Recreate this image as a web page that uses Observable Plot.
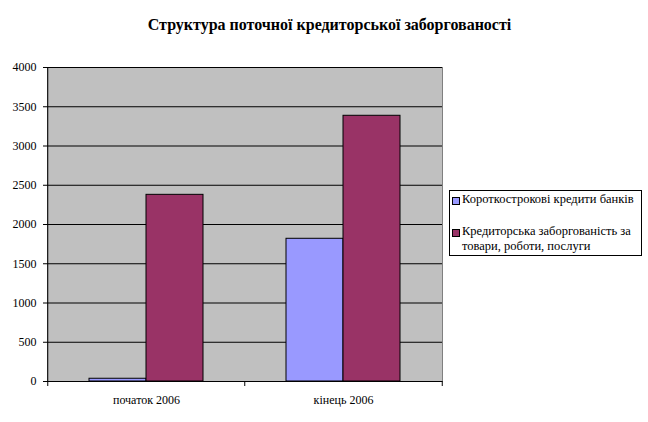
<!DOCTYPE html>
<html><head><meta charset="utf-8">
<script src="https://cdn.jsdelivr.net/npm/d3@7"></script>
<script src="https://cdn.jsdelivr.net/npm/@observablehq/plot@0.6"></script>
<style>
body{margin:0;background:#fff;}
#wrap{position:relative;width:648px;height:422px;font-family:'Liberation Serif','Times New Roman',serif;}
#title{position:absolute;left:0;width:659px;top:16px;text-align:center;font-weight:bold;font-size:16px;font-family:'Liberation Serif','Times New Roman',serif;}
#legend{position:absolute;left:449px;top:190px;width:193px;height:66px;box-sizing:border-box;border:1px solid #000;background:#fff;font-size:12.5px;line-height:15px;font-family:'Liberation Serif','Times New Roman',serif;}
.item{position:absolute;left:2px;display:flex;}
.sw{width:6px;height:6px;border:1px solid #000;margin-top:5px;margin-right:2px;flex:none;}
svg{position:absolute;left:0;top:0;}
</style></head>
<body><div id="wrap"><div id="title">Структура поточної кредиторської заборгованості</div></div>
<script>
const categories = ["початок 2006", "кінець 2006"];
const seriesNames = ["Короткострокові кредити банків", "Кредиторська заборгованість за товари, роботи, послуги"];
const shortTermLoans = [35, 1818];
const tradePayables = [2378, 3385];
const yTicks = [0, 500, 1000, 1500, 2000, 2500, 3000, 3500, 4000];
const colors = ["#9999FF", "#993366"];

const data = [];
categories.forEach((c, i) => {
  data.push({cat: c, series: seriesNames[0], value: shortTermLoans[i]});
  data.push({cat: c, series: seriesNames[1], value: tradePayables[i]});
});

const step = 395 / categories.length;
const chart = Plot.plot({
  width: 648, height: 422,
  marginLeft: 47, marginRight: 206, marginTop: 67, marginBottom: 41,
  style: {fontFamily: "'Liberation Serif', 'Times New Roman', serif", fontSize: "12px", color: "#000", background: "transparent"},
  x: {domain: categories, paddingInner: 0.423, paddingOuter: 0.2115, label: null},
  y: {domain: [0, 4000], ticks: yTicks, label: null},
  color: {domain: seriesNames, range: colors},
  marks: [
    Plot.frame({fill: "#C0C0C0", stroke: "#808080"}),
    Plot.ruleY(yTicks, {stroke: "#000", strokeWidth: 1}),
    Plot.barY(data.filter(d => d.series === seriesNames[0]), {x: "cat", y: "value", fill: colors[0], stroke: "#000", strokeWidth: 1, insetRight: 57}),
    Plot.barY(data.filter(d => d.series === seriesNames[1]), {x: "cat", y: "value", fill: colors[1], stroke: "#000", strokeWidth: 1, insetLeft: 57}),
    Plot.axisY({ticks: yTicks, tickSize: 4, tickFormat: d => String(d), tickPadding: 7}),
    Plot.axisX({tickSize: 0, tickPadding: 14}),
    Plot.ruleX(categories, {x: d => d, dx: -step / 2, y1: 0, y2: 0, insetBottom: -5, stroke: "#000"}),
    Plot.ruleX([categories[categories.length - 1]], {x: d => d, dx: step / 2, y1: 0, y2: 0, insetBottom: -5, stroke: "#000"}),
    Plot.ruleY([0], {stroke: "#000"}),
    Plot.ruleX([categories[0]], {x: d => d, dx: -step / 2, y1: 0, y2: 4000, stroke: "#000"})
  ]
});
const wrap = document.getElementById("wrap");
wrap.insertBefore(chart, wrap.firstChild);

const legend = document.createElement("div");
legend.id = "legend";
seriesNames.forEach((s, i) => {
  const it = document.createElement("div");
  it.className = "item";
  it.style.top = (i === 0 ? 1 : 33) + "px";
  it.style.width = "188px";
  const sw = document.createElement("div");
  sw.className = "sw"; sw.style.background = colors[i];
  const t = document.createElement("div");
  t.textContent = s;
  it.appendChild(sw); it.appendChild(t);
  legend.appendChild(it);
});
wrap.appendChild(legend);
</script></body></html>
